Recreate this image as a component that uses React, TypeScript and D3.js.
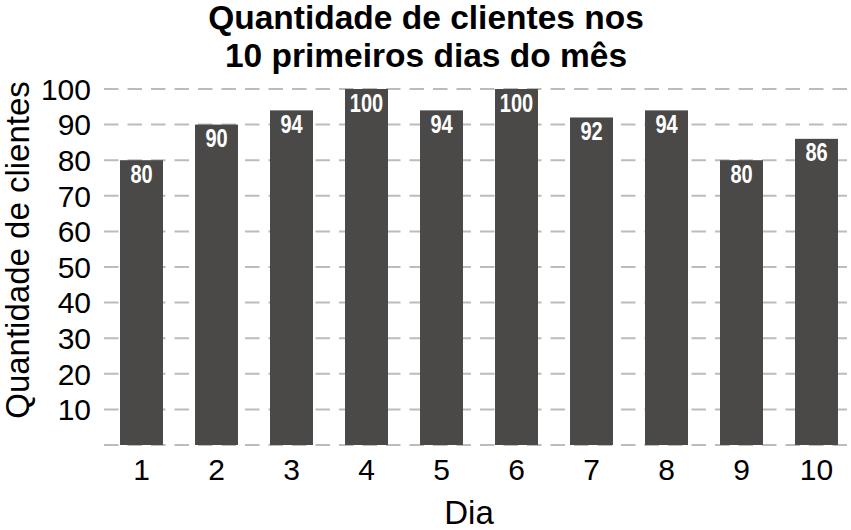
import * as d3 from "d3";

const days = ["1", "2", "3", "4", "5", "6", "7", "8", "9", "10"];
const clients = [80, 90, 94, 100, 94, 100, 92, 94, 80, 86];
const yTicks = [10, 20, 30, 40, 50, 60, 70, 80, 90, 100];
const titleLines = ["Quantidade de clientes nos", "10 primeiros dias do mês"];

const W = 851;
const H = 530;
const font = "'Liberation Sans', Arial, Helvetica, sans-serif";

export default function App() {
  // bands are 75px apart with 43px bars; outer padding is half the inner gap
  const x = d3
    .scaleBand<string>()
    .domain(days)
    .range([104, 854])
    .paddingInner(0.427)
    .paddingOuter(0.2135);

  const y = d3.scaleLinear().domain([0, 100]).range([445, 89]);
  const cx = (d: string) => (x(d) ?? 0) + x.bandwidth() / 2;

  return (
    <svg
      width={W}
      height={H}
      style={{ display: "block", position: "absolute", left: 0, top: 0 }}
    >
      <rect width={W} height={H} fill="#fff" />

      {/* title */}
      {titleLines.map((t, i) => (
        <text
          key={t}
          x={426}
          y={29 + i * 38}
          textAnchor="middle"
          fontFamily={font}
          fontWeight="bold"
          fontSize={33.5}
          fill="#000"
        >
          {t}
        </text>
      ))}

      {/* dashed grid incl. baseline */}
      {[0, ...yTicks].map((v) => (
        <line
          key={v}
          x1={104}
          x2={W}
          y1={y(v)}
          y2={y(v)}
          stroke="#bcbcbc"
          strokeWidth={2}
          strokeDasharray="14.5 9"
        />
      ))}

      {yTicks.map((v) => (
        <text
          key={v}
          x={91}
          y={y(v)}
          dy="0.36em"
          textAnchor="end"
          fontFamily={font}
          fontSize={30}
          fill="#000"
        >
          {v}
        </text>
      ))}

      {/* bars + value labels (narrow bold, no Arial Narrow here so squeeze it) */}
      {days.map((d, i) => (
        <g key={d}>
          <rect
            x={x(d)}
            y={y(clients[i])}
            width={x.bandwidth()}
            height={y(0) - y(clients[i])}
            fill="#4a4948"
          />
          <text
            transform={`translate(${cx(d)}, ${y(clients[i]) + 22.5}) scale(0.8, 1)`}
            textAnchor="middle"
            fontFamily={font}
            fontWeight="bold"
            fontSize={25}
            fill="#fff"
          >
            {clients[i]}
          </text>
        </g>
      ))}

      {days.map((d) => (
        <text
          key={d}
          x={cx(d)}
          y={480}
          textAnchor="middle"
          fontFamily={font}
          fontSize={30}
          fill="#000"
        >
          {d}
        </text>
      ))}

      <text
        x={469}
        y={524}
        textAnchor="middle"
        fontFamily={font}
        fontSize={33}
        fill="#000"
      >
        Dia
      </text>

      <text
        transform={`translate(29, 250) rotate(-90)`}
        textAnchor="middle"
        fontFamily={font}
        fontSize={33}
        fill="#000"
      >
        Quantidade de clientes
      </text>
    </svg>
  );
}
